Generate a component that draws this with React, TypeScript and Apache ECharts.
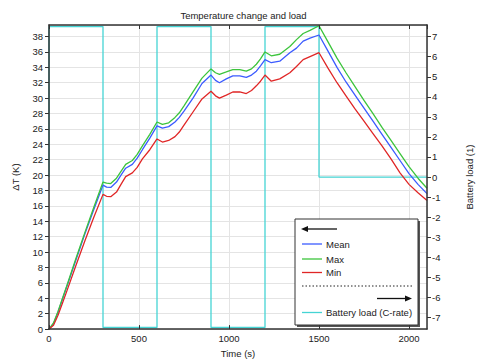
import React, { useEffect, useRef } from 'react';
import * as echarts from 'echarts';

const times = [0, 25, 50, 75, 100, 150, 200, 250, 300, 320, 343, 375, 400, 426, 463, 490, 519, 560, 600, 630, 665, 700, 724, 750, 800, 850, 900, 925, 947, 985, 1021, 1060, 1096, 1125, 1152, 1175, 1200, 1235, 1282, 1338, 1375, 1412, 1450, 1500, 1550, 1600, 1650, 1700, 1750, 1800, 1850, 1900, 1950, 2000, 2050, 2100];

const maxT = [0, 0.8, 2.3, 4.0, 5.7, 9.2, 12.6, 15.9, 19.1, 18.95, 18.9, 19.6, 20.5, 21.4, 21.9, 22.7, 23.8, 25.3, 26.9, 26.6, 26.8, 27.5, 28.1, 29.0, 30.8, 32.6, 33.8, 33.3, 33.1, 33.4, 33.7, 33.7, 33.5, 33.8, 34.4, 35.1, 36.0, 35.5, 35.7, 36.7, 37.6, 38.4, 38.8, 39.4, 37.3, 35.2, 33.3, 31.5, 29.7, 28.0, 26.2, 24.5, 22.8, 21.1, 19.6, 18.3];

const meanT = [0, 0.7, 2.2, 3.9, 5.6, 9.0, 12.4, 15.6, 18.7, 18.45, 18.4, 19.1, 20.0, 20.9, 21.4, 22.2, 23.3, 24.8, 26.4, 26.1, 26.3, 26.9, 27.5, 28.3, 30.0, 31.9, 33.0, 32.3, 32.0, 32.5, 32.9, 32.9, 32.7, 33.0, 33.5, 34.2, 35.0, 34.6, 34.8, 35.9, 36.5, 37.4, 37.8, 38.2, 36.1, 34.0, 32.1, 30.4, 28.7, 27.0, 25.3, 23.6, 21.9, 20.2, 18.8, 17.6];

const minT = [0, 0.5, 1.8, 3.4, 5.0, 8.3, 11.5, 14.6, 17.5, 17.25, 17.2, 17.8, 18.8, 19.8, 20.3, 21.0, 22.1, 23.3, 24.7, 24.3, 24.5, 25.0, 25.6, 26.5, 28.2, 29.9, 30.9, 30.3, 30.0, 30.4, 30.8, 30.8, 30.6, 31.0, 31.6, 32.2, 33.0, 32.2, 32.5, 33.3, 34.1, 35.0, 35.4, 35.9, 33.9, 32.0, 30.3, 28.6, 27.0, 25.4, 23.8, 22.1, 20.3, 18.8, 17.7, 16.7];

const loadTimes = [0, 0, 300, 300, 600, 600, 900, 900, 1200, 1200, 1500, 1500, 2100];
const loadValues = [0, 7.5, 7.5, -7.5, -7.5, 7.5, 7.5, -7.5, -7.5, 7.5, 7.5, 0, 0];

const seriesNames = ['Mean', 'Max', 'Min'];
const loadName = 'Battery load (C-rate)';

const BLUE = '#3b5bff';
const GREEN = '#3cc43c';
const RED = '#e02626';
const CYAN = '#45d4d4';
const FONT = 'Liberation Sans';
const AXIS = '#333333';
const GRID = '#e4e4e4';

const pairs = (xs: number[], ys: number[]) => xs.map((x, i) => [x, ys[i]]);
const plain = (v: number) => String(v);

export default function App() {
  const ref = useRef<HTMLDivElement>(null);
  useEffect(() => {
    if (!ref.current) return;
    const chart = echarts.init(ref.current, undefined, { renderer: 'svg' });
    const lx = 295, ly = 219, lw = 123, lh = 106;
    const textStyle = { fontFamily: FONT, fontSize: 9.5, fill: '#222' };
    const entry = (y: number, color: string, label: string) => [
      { type: 'line', z: 20, shape: { x1: lx + 7, y1: y, x2: lx + 27, y2: y }, style: { stroke: color, lineWidth: 1.3 } },
      { type: 'text', z: 20, x: lx + 31, y, style: { ...textStyle, text: label, verticalAlign: 'middle' } },
    ];
    const hidden = { axisLine: { show: false }, axisTick: { show: false }, axisLabel: { show: false } };
    const option: any = {
      animation: false,
      backgroundColor: '#ffffff',
      title: {
        text: 'Temperature change and load',
        left: 238.5,
        top: 5,
        textAlign: 'center',
        textStyle: { fontFamily: FONT, fontSize: 9.5, fontWeight: 'normal', color: '#222' },
      },
      grid: { left: 49, right: 54, top: 25, bottom: 30, containLabel: false },
      xAxis: [
        {
          type: 'value', min: 0, max: 2100, interval: 500, position: 'bottom', z: 10,
          name: 'Time (s)', nameLocation: 'middle', nameGap: 13,
          nameTextStyle: { fontFamily: FONT, fontSize: 9.5, color: '#222' },
          axisLine: { show: true, onZero: false, lineStyle: { color: AXIS, width: 1.5 } },
          axisTick: { show: true, inside: true, length: 4, lineStyle: { color: AXIS } },
          axisLabel: { fontFamily: FONT, fontSize: 9.5, color: '#222', margin: 4, showMaxLabel: false, formatter: plain },
          splitLine: { show: false },
        },
        {
          type: 'value', min: 0, max: 2100, interval: 500, position: 'top', z: 10,
          axisLine: { show: true, onZero: false, lineStyle: { color: AXIS, width: 1.5 } },
          axisTick: { show: true, inside: true, length: 4, lineStyle: { color: AXIS } },
          axisLabel: { show: false },
          splitLine: { show: false },
        },
        {
          type: 'value', min: 0, max: 2100, interval: 500, position: 'bottom', z: 0,
          ...hidden,
          splitLine: { show: true, lineStyle: { color: GRID, width: 1 } },
        },
      ],
      yAxis: [
        {
          type: 'value', min: 0, max: 39.5, interval: 2, position: 'left', z: 10,
          name: 'ΔT (K)', nameLocation: 'middle', nameGap: 29, nameRotate: 90,
          nameTextStyle: { fontFamily: FONT, fontSize: 9.5, color: '#222' },
          axisLine: { show: true, onZero: false, lineStyle: { color: AXIS, width: 1.5 } },
          axisTick: { show: true, inside: false, length: 4, lineStyle: { color: AXIS } },
          axisLabel: { fontFamily: FONT, fontSize: 9.5, color: '#222', margin: 6, showMaxLabel: false, formatter: plain },
          splitLine: { show: false },
        },
        {
          type: 'value', min: -7.58, max: 7.58, splitNumber: 15, minInterval: 1, maxInterval: 1, position: 'right', z: 10,
          name: 'Battery load (1)', nameLocation: 'middle', nameGap: 37, nameRotate: 90,
          nameTextStyle: { fontFamily: FONT, fontSize: 9.5, color: '#222' },
          axisLine: { show: true, onZero: false, lineStyle: { color: AXIS, width: 1.5 } },
          axisTick: { show: true, inside: false, length: 4, lineStyle: { color: AXIS } },
          axisLabel: { fontFamily: FONT, fontSize: 9.5, color: '#222', margin: 5, showMaxLabel: false, showMinLabel: false, formatter: plain },
          splitLine: { show: false },
        },
        {
          type: 'value', min: 0, max: 39.5, interval: 2, position: 'left', z: 0,
          ...hidden,
          splitLine: { show: true, lineStyle: { color: GRID, width: 1 } },
        },
      ],
      series: [
        { name: seriesNames[0], type: 'line', data: pairs(times, meanT), showSymbol: false, symbol: 'none', lineStyle: { color: BLUE, width: 1.3 }, itemStyle: { color: BLUE }, z: 4 },
        { name: seriesNames[1], type: 'line', data: pairs(times, maxT), showSymbol: false, symbol: 'none', lineStyle: { color: GREEN, width: 1.3 }, itemStyle: { color: GREEN }, z: 4 },
        { name: seriesNames[2], type: 'line', data: pairs(times, minT), showSymbol: false, symbol: 'none', lineStyle: { color: RED, width: 1.3 }, itemStyle: { color: RED }, z: 4 },
        { name: loadName, type: 'line', yAxisIndex: 1, data: pairs(loadTimes, loadValues), showSymbol: false, symbol: 'none', clip: false, lineStyle: { color: CYAN, width: 1.3 }, itemStyle: { color: CYAN }, z: 3 },
      ],
      graphic: [
        { type: 'rect', z: 10, shape: { x: lx + 2, y: ly + 2, width: lw, height: lh }, style: { fill: '#555' } },
        { type: 'rect', z: 11, shape: { x: lx, y: ly, width: lw, height: lh }, style: { fill: '#ffffff', stroke: '#333', lineWidth: 1 } },
        { type: 'line', z: 20, shape: { x1: lx + 11, y1: ly + 10, x2: lx + 42, y2: ly + 10 }, style: { stroke: '#111', lineWidth: 1.3 } },
        { type: 'polygon', z: 20, shape: { points: [[lx + 6, ly + 10], [lx + 13, ly + 7], [lx + 13, ly + 13]] }, style: { fill: '#111' } },
        ...entry(ly + 25, BLUE, seriesNames[0]),
        ...entry(ly + 40, GREEN, seriesNames[1]),
        ...entry(ly + 53.5, RED, seriesNames[2]),
        { type: 'line', z: 20, shape: { x1: lx + 7, y1: ly + 67, x2: lx + 118, y2: ly + 67 }, style: { stroke: '#222', lineWidth: 1, lineDash: [1.5, 2] } },
        { type: 'line', z: 20, shape: { x1: lx + 82, y1: ly + 79.5, x2: lx + 112, y2: ly + 79.5 }, style: { stroke: '#111', lineWidth: 1.3 } },
        { type: 'polygon', z: 20, shape: { points: [[lx + 117, ly + 79.5], [lx + 110, ly + 76.5], [lx + 110, ly + 82.5]] }, style: { fill: '#111' } },
        ...entry(ly + 93.5, CYAN, loadName),
      ],
    };
    chart.setOption(option);
    return () => chart.dispose();
  }, []);
  return <div ref={ref} style={{ position: 'fixed', left: 0, top: 0, width: 482, height: 363 }} />;
}
